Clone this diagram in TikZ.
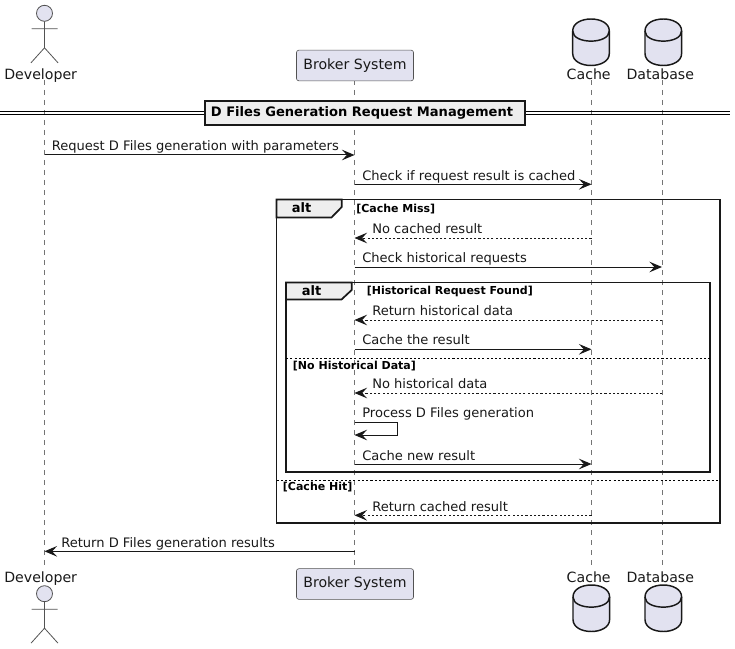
\documentclass[tikz,border=0pt]{standalone}
\usepackage{fontspec}
\setmainfont{DejaVu Sans}
\usetikzlibrary{arrows.meta}
\definecolor{pfill}{HTML}{E2E2F0}
\definecolor{pline}{HTML}{181818}
\definecolor{tabfill}{HTML}{EEEEEE}
\tikzset{
  x=0.75pt,y=-0.75pt,
  lifeline/.style={draw=pline!60,line width=0.5pt,dash pattern=on 3.75pt off 3.75pt},
  tip/.style={-{Stealth[length=9.5pt,width=8pt,inset=3.8pt]}},
  msg/.style={draw=pline,line width=0.75pt,tip},
  reply/.style={draw=pline,line width=0.7pt,dash pattern=on 1.6pt off 1.6pt,tip},
  msgtext/.style={anchor=base west,inner sep=0pt,text=pline,font=\fontsize{9.8pt}{12pt}\selectfont},
  parttext/.style={anchor=base,inner sep=0pt,text=pline,font=\fontsize{10.6pt}{12pt}\selectfont},
  frame/.style={draw=pline,line width=1.3pt},
  tabshape/.style={draw=pline,line width=1.3pt,fill=tabfill,line join=miter},
  fkw/.style={anchor=base,inner sep=0pt,text=black,font=\fontsize{9.75pt}{12pt}\bfseries\selectfont},
  guard/.style={anchor=base west,inner sep=0pt,text=black,font=\fontsize{8.25pt}{10pt}\bfseries\selectfont},
  elseline/.style={draw=black,line width=0.7pt,dash pattern=on 1.6pt off 1.6pt},
  actorline/.style={draw=pline!75,line width=0.6pt},
  actorhead/.style={draw=pline!75,line width=0.6pt,fill=pfill},
  dbshape/.style={draw=pline,line width=1.1pt,fill=pfill},
  partbox/.style={draw=pline!75,line width=0.45pt,fill=pfill,rounded corners=1.8pt,minimum width=87.8pt,minimum height=23pt,inner sep=0pt,text=pline,font=\fontsize{10.6pt}{12pt}\selectfont},
  divbox/.style={draw=pline,line width=1.3pt,fill=tabfill,minimum width=240pt,minimum height=18pt,inner sep=0pt,text=black,font=\fontsize{9.8pt}{12pt}\bfseries\selectfont},
}
\newcommand{\actorfig}[1]{% y of head centre
  \draw[actorhead] (44.5,#1) circle (8);
  \draw[actorline] (44.5,#1+8) -- (44.5,#1+34.5)
    (31.5,#1+15.5) -- (57.5,#1+15.5)
    (31,#1+49.5) -- (44.5,#1+34.5) -- (58,#1+49.5);
}
\newcommand{\dbfig}[2]{% centre x, top y
  \draw[dbshape] (#1-18.3,#2+12)
    .. controls (#1-18.3,#2-4) and (#1+18.3,#2-4) .. (#1+18.3,#2+12)
    -- (#1+18.3,#2+34.5)
    .. controls (#1+18.3,#2+50.5) and (#1-18.3,#2+50.5) .. (#1-18.3,#2+34.5) -- cycle;
  \draw[dbshape,fill=none] (#1-18.3,#2+12)
    .. controls (#1-18.3,#2+25.5) and (#1+18.3,#2+25.5) .. (#1+18.3,#2+12);
}
\begin{document}
\begin{tikzpicture}
\useasboundingbox (0,0) rectangle (735,649);
% lifeline ends
\coordinate (dev) at (44.5,80);   \coordinate (devB) at (44.5,567);
\coordinate (brk) at (354.5,80);  \coordinate (brkB) at (354.5,567);
\coordinate (cac) at (591.5,80);  \coordinate (cacB) at (591.5,567);
\coordinate (dbs) at (662,80);    \coordinate (dbsB) at (662,567);
\draw[lifeline] (dev) -- (devB);
\draw[lifeline] (brk) -- (brkB);
\draw[lifeline] (cac) -- (cacB);
\draw[lifeline] (dbs) -- (dbsB);
% participants
\actorfig{13.3}
\actorfig{593.7}
\node[parttext] (devT) at (40.7,79.5) {Developer};
\node[parttext] (devU) at (40.7,582) {Developer};
\node[partbox] (brkT) at (355,65.5) {Broker System};
\node[partbox] (brkU) at (355,584) {Broker System};
\dbfig{591}{19}
\dbfig{663.3}{19}
\dbfig{591.3}{585}
\dbfig{663.3}{585}
\node[parttext] (cacT) at (588.7,79.5) {Cache};
\node[parttext] (dbsT) at (660.3,79.5) {Database};
\node[parttext] (cacU) at (588.7,582) {Cache};
\node[parttext] (dbsU) at (660.3,582) {Database};
% divider
\coordinate (divL) at (0,111.3); \coordinate (divR) at (730,111.3);
\coordinate (divL2) at (0,114.7); \coordinate (divR2) at (730,114.7);
\draw[draw=black,line width=0.9pt] (divL) -- (divR);
\draw[draw=black,line width=0.9pt] (divL2) -- (divR2);
\node[divbox] (divT) at (365,112.7) {\hspace*{-4.5pt}D Files Generation Request Management};
% rows
\coordinate (r1) at (0,155);
\coordinate (r2) at (0,184.3);
\coordinate (r3) at (0,238);
\coordinate (r4) at (0,267);
\coordinate (r5) at (0,320);
\coordinate (r6) at (0,349.3);
\coordinate (r7) at (0,393);
\coordinate (r8a) at (0,422.7);
\coordinate (r8b) at (0,435);
\coordinate (r8x) at (397.7,0);
\coordinate (r9) at (0,464);
\coordinate (r10) at (0,515.3);
\coordinate (r11) at (0,551.3);
% frames
\draw[frame] (276.5,199.5) rectangle (720,523);
\draw[tabshape] (276.5,217.5) -- (276.5,199.5) -- (341.7,199.5) -- (341.7,207) -- (331.5,217.5) -- cycle;
\node[fkw] (altA) at (301.5,212) {alt};
\node[guard] (gA) at (356,212) {[Cache Miss]};
\draw[frame] (286,282.5) rectangle (710,472.3);
\draw[tabshape] (286,299.5) -- (286,282.5) -- (351.7,282.5) -- (351.7,290) -- (341.5,299.5) -- cycle;
\node[fkw] (altB) at (311.5,295) {alt};
\node[guard] (gB) at (366.5,294) {[Historical Request Found]};
\coordinate (e1L) at (286,358.3); \coordinate (e1R) at (710,358.3);
\draw[elseline] (e1L) -- (e1R);
\node[guard] (gC) at (292.7,369) {[No Historical Data]};
\coordinate (e2L) at (276.5,480.3); \coordinate (e2R) at (720,480.3);
\draw[elseline] (e2L) -- (e2R);
\node[guard] (gD) at (282.7,490.7) {[Cache Hit]};
% messages
\draw[msg] (dev |- r1) -- (brk |- r1);
\node[msgtext] (t1) at (51.5,150.5) {Request D Files generation with parameters};
\draw[msg] (brk |- r2) -- (cac |- r2);
\node[msgtext] (t2) at (362,180.5) {Check if request result is cached};
\draw[reply] (cac |- r3) -- (brk |- r3);
\node[msgtext] (t3) at (372,233.5) {No cached result};
\draw[msg] (brk |- r4) -- (dbs |- r4);
\node[msgtext] (t4) at (362,262.5) {Check historical requests};
\draw[reply] (dbs |- r5) -- (brk |- r5);
\node[msgtext] (t5) at (372,315.5) {Return historical data};
\draw[msg] (brk |- r6) -- (cac |- r6);
\node[msgtext] (t6) at (362,344.5) {Cache the result};
\draw[reply] (dbs |- r7) -- (brk |- r7);
\node[msgtext] (t7) at (372,388.5) {No historical data};
\draw[msg] (brk |- r8a) -- (r8x |- r8a) -- (r8x |- r8b) -- (brk |- r8b);
\node[msgtext] (t8) at (362,417.5) {Process D Files generation};
\draw[msg] (brk |- r9) -- (cac |- r9);
\node[msgtext] (t9) at (362,460.5) {Cache new result};
\draw[reply] (cac |- r10) -- (brk |- r10);
\node[msgtext] (t10) at (372,511.5) {Return cached result};
\draw[msg] (brk |- r11) -- (dev |- r11);
\node[msgtext] (t11) at (61,547) {Return D Files generation results};
\end{tikzpicture}
\end{document}
